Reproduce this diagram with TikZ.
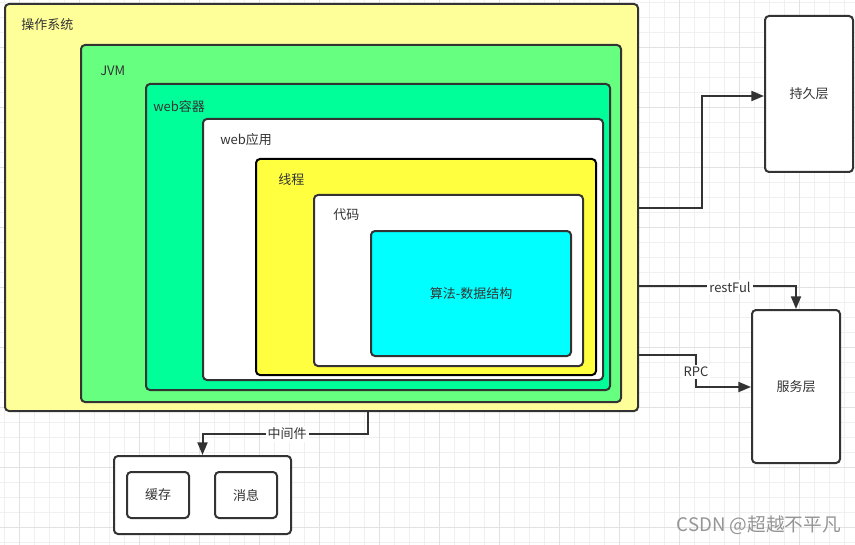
\documentclass[tikz,border=0pt]{standalone}
\usepackage{fontspec}
\setmainfont{Noto Sans CJK SC}
\usetikzlibrary{fit,arrows.meta}
\definecolor{osc}{HTML}{FFFF99}
\definecolor{jvmc}{HTML}{66FF80}
\definecolor{wcc}{HTML}{00FF99}
\definecolor{thc}{HTML}{FFFF40}
\definecolor{algc}{HTML}{00FFFF}
\definecolor{linec}{HTML}{333333}
\definecolor{txtc}{HTML}{333333}
\definecolor{gridminor}{HTML}{F0F0F0}
\definecolor{gridmajor}{HTML}{E2E2E2}
\definecolor{wmc}{HTML}{959595}
\begin{document}
\begin{tikzpicture}[x=0.75pt,y=-0.75pt,
  box/.style={draw=linec, line width=1.5pt, rounded corners=3pt, inner sep=0pt},
  lbl/.style={anchor=west, text=txtc, font=\fontsize{9.75pt}{11pt}\selectfont, inner sep=0pt},
  ctr/.style={text=txtc, font=\fontsize{9.75pt}{11pt}\selectfont, inner sep=0pt},
  conn/.style={draw=linec, line width=1.5pt, -{Triangle[length=9.5pt,width=7.5pt]}},
  onl/.style={fill=white, text=txtc, font=\fontsize{9.75pt}{11pt}\selectfont, inner sep=1.5pt}]
\useasboundingbox (0,0) rectangle (855,545);
\fill[white] (0,0) rectangle (855,545);
% grid
\foreach \x in {4.3,19.3,...,855} \draw[gridminor, line width=0.75pt] (\x,0) -- (\x,545);
\foreach \y in {2.3,17.3,...,545} \draw[gridminor, line width=0.75pt] (0,\y) -- (855,\y);
\foreach \x in {19.3,79.3,...,855} \draw[gridmajor, line width=0.75pt] (\x,0) -- (\x,545);
\foreach \y in {47.3,107.3,...,545} \draw[gridmajor, line width=0.75pt] (0,\y) -- (855,\y);

% nested boxes
\node[box, fill=osc, fit={(5,4) (638,411)}] (os) {};
\node[lbl] (oslbl) at (21,25) {操作系统};
\node[box, fill=jvmc, fit={(81,45) (621,402)}] (jvm) {};
\node[lbl] (jvmlbl) at (100,71) {JVM};
\node[box, fill=wcc, fit={(146,84) (610,390)}] (wc) {};
\node[lbl] (wclbl) at (153,107) {web容器};
\node[box, fill=white, fit={(203,119) (603,380)}] (wa) {};
\node[lbl] (walbl) at (220,140) {web应用};
\node[box, draw=black, fill=thc, fit={(256,159) (596,375)}] (th) {};
\node[lbl] (thlbl) at (278,180) {线程};
\node[box, fill=white, fit={(314,195) (583,366)}] (code) {};
\node[lbl] (codelbl) at (333,215) {代码};
\node[box, fill=algc, fit={(371,231) (571,356)}] (alg) {};
\node[ctr] (alglbl) at (alg.center) {算法-数据结构};

% right side
\node[box, fill=white, fit={(765,16) (853,172)}] (persist) {};
\node[ctr] (persistlbl) at (persist.center) {持久层};
\node[box, fill=white, fit={(752,310) (840,463)}] (service) {};
\node[ctr] (servicelbl) at (service.center) {服务层};

% middleware
\node[box, fill=white, fit={(114,456) (291,534)}] (mw) {};
\node[box, fill=white, fit={(127,472) (189,518)}] (cache) {};
\node[ctr] (cachelbl) at (cache.center) {缓存};
\node[box, fill=white, fit={(215,472) (277,518)}] (msg) {};
\node[ctr] (msglbl) at (msg.center) {消息};

% connectors
\draw[conn] (os.east |- 0,208) -| (702,96) -- (persist.west |- 0,96);
\draw[conn] (os.east |- 0,286) -| (service.north);
\node[onl] (restlbl) at (730,287) {restFul};
\draw[conn] (os.east |- 0,355) -| (696,387) -- (service.west |- 0,387);
\node[onl] (rpclbl) at (696,372) {RPC};
\draw[conn] (os.south -| 368,0) -- (368,434) -| (mw.north);
\node[onl] (mwlbl) at (287,434) {中间件};

% watermark
\node[anchor=east, text=wmc, font=\fontsize{14pt}{16pt}\selectfont, inner sep=0pt] (wm) at (841,525) {CSDN @超越不平凡};
\end{tikzpicture}
\end{document}
